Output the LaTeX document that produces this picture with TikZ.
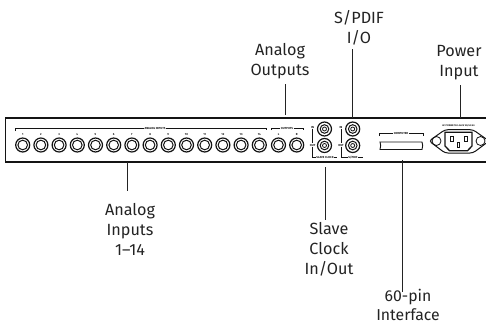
\documentclass[tikz,border=0pt]{standalone}
\usepackage{fontspec}
\setmainfont{Fira Sans}
\usepackage{tikz}
\usetikzlibrary{positioning,calc}
\definecolor{panelink}{RGB}{20,20,20}
\definecolor{calloutink}{RGB}{35,35,35}
\tikzset{
  calloutlabel/.style={align=center,font=\fontsize{16.2}{19.8}\selectfont,text=calloutink,inner sep=1pt},
  callout/.style={draw=calloutink,line width=1pt},
  jack/.style={circle,draw=panelink,line width=1.2pt,minimum size=14pt,inner sep=0pt},
  jackring/.style={circle,draw=panelink,line width=1pt,minimum size=9.6pt,inner sep=0pt},
  bnccore/.style={circle,draw=panelink,line width=0.8pt,minimum size=4pt,inner sep=0pt},
  tinytext/.style={font=\fontsize{2.9}{4}\selectfont\bfseries,text=panelink,inner sep=0.4pt},
  silk/.style={draw=panelink,line width=0.7pt},
  pin/.style={draw=panelink,line width=0.9pt,minimum width=2.6pt,minimum height=4.6pt,inner sep=0pt},
  powerhole/.style={circle,draw=panelink,line width=0.8pt,minimum size=9pt,inner sep=0pt}
}
\begin{document}
\begin{tikzpicture}[x=1pt,y=-1pt]
\useasboundingbox (0,0) rectangle (486,324);
% rear panel
\coordinate (paneltl) at (5.5,118);
\coordinate (paneltr) at (486,118);
\coordinate (panelbl) at (5.5,162);
\coordinate (panelbr) at (486,162);
\draw[panelink,line width=1.7pt] (paneltr) -- (paneltl) -- (panelbl) -- (panelbr);
% analog inputs
\foreach \i in {1,...,14} {
  \node[jack] (inp\i) at ({22.7+(\i-1)*18.2},145) {};
  \node[jackring] (inpring\i) at (inp\i) {};
  \node[tinytext] (inpnum\i) at ({22.7+(\i-1)*18.2},134.5) {\i};
}
\node[tinytext] (inputstext) at (155,128.3) {ANALOG INPUTS};
\draw[silk] (15.5,131) |- (inputstext.west);
\draw[silk] (inputstext.east) -| (266.5,130);
% analog outputs
\node[jack] (outl) at (278.5,145) {};
\node[jackring] (outlring) at (outl) {};
\node[jack] (outr) at (296.7,145) {};
\node[jackring] (outrring) at (outr) {};
\node[tinytext] (outlnum) at (278.5,134.5) {L};
\node[tinytext] (outrnum) at (296.7,134.5) {R};
\node[tinytext] (outputstext) at (287,128.3) {OUTPUTS};
\draw[silk] (271,130) |- (outputstext.west);
\draw[silk] (outputstext.east) -| (303,130);
% slave clock and s/pdif
\foreach \n/\x in {clock/324.5,spdif/352.7} {
  \node[jack] (\n in) at (\x,129) {};
  \node[jackring,minimum size=8.6pt] (\n inring) at (\n in) {};
  \node[bnccore] (\n incore) at (\n in) {};
  \node[jack] (\n out) at (\x,145.5) {};
  \node[jackring,minimum size=8.6pt] (\n outring) at (\n out) {};
  \node[bnccore] (\n outcore) at (\n out) {};
}
\node[tinytext] (clockintext) at (312.7,127) {IN};
\node[tinytext] (clockouttext) at (312.7,145) {OUT};
\node[tinytext] (clocktext) at (325,157) {SLAVE CLOCK};
\draw[silk] (clockintext.south) -- (clockouttext.north);
\draw[silk] (clockouttext.south) |- (clocktext.west);
\draw[silk] (clocktext.east) -- (337,157);
\node[tinytext] (spdifintext) at (341,127) {IN};
\node[tinytext] (spdifouttext) at (341,145) {OUT};
\node[tinytext] (spdiftext) at (353,157) {S/PDIF};
\draw[silk] (spdifintext.south) -- (spdifouttext.north);
\draw[silk] (spdifouttext.south) |- (spdiftext.west);
\draw[silk] (spdiftext.east) -- (363,157);
% computer port
\node[tinytext] (computertext) at (401,133.5) {COMPUTER};
\draw[silk] (379,136) |- (computertext.west);
\draw[silk] (computertext.east) -| (423,136);
\draw[panelink,line width=0.9pt] (380,142) -- (422,142) -- (422.7,145.5) -- (422,149.5)
  -- (380,149.5) -- (380.7,145.5) -- cycle;
% power socket
\node[tinytext,font=\fontsize{2.4}{3}\selectfont\bfseries] (powertext) at (458.5,125.5) {AC POWER 100-240V 50/60 Hz};
\draw[panelink,line width=1pt,rounded corners=3pt] (429,141) -- (445,129.7) -- (473,129.7) -- (489,141)
  -- (473,153) -- (445,153) -- cycle;
\node[powerhole] (powerholel) at (436.5,141) {};
\node[powerhole] (powerholer) at (480.5,141) {};
\draw[panelink,line width=1.3pt] (445,132.3) -- (472,132.3) -- (472,146) -- (467.5,150.7)
  -- (449.5,150.7) -- (445,146) -- cycle;
\node[pin] (pinl) at (452,138.7) {};
\node[pin] (pinr) at (465.7,138.7) {};
\node[pin] (pinm) at (458.5,145) {};
% callouts
\node[calloutlabel] (inputslabel) at (130,229.5) {Analog\\Inputs\\1--14};
\node[calloutlabel] (clocklabel) at (329,249.5) {Slave\\Clock\\In/Out};
\node[calloutlabel,inner sep=0pt,font=\fontsize{15.8}{19}\selectfont] (pinlabel) at (408,304.5) {60-pin\\Interface};
\node[calloutlabel] (outputslabel) at (280,61.5) {Analog\\Outputs};
\node[calloutlabel] (spdiflabel) at (359,27.5) {S/PDIF\\I/O};
\node[calloutlabel] (powerlabel) at (459,63) {Power\\Input};
\coordinate (inputsend) at (127,162);
\coordinate (clockend) at (325,167);
\coordinate (pinend) at (402.5,160);
\coordinate (outputsend) at (285.5,115);
\coordinate (spdifend) at (352,118);
\coordinate (powerend) at (460,118);
\coordinate (inputstip) at (127,191);
\coordinate (clocktip) at (325,220);
\coordinate (pintip) at (402.5,292);
\coordinate (outputstip) at (285.5,84);
\coordinate (spdiftip) at (352,49);
\coordinate (powertip) at (460,85);
\draw[callout] (inputsend) -- (inputstip);
\draw[callout] (clockend) -- (clocktip);
\draw[callout] (pinend) -- (pintip);
\draw[callout] (outputsend) -- (outputstip);
\draw[callout] (spdifend) -- (spdiftip);
\draw[callout] (powerend) -- (powertip);
\end{tikzpicture}
\end{document}
